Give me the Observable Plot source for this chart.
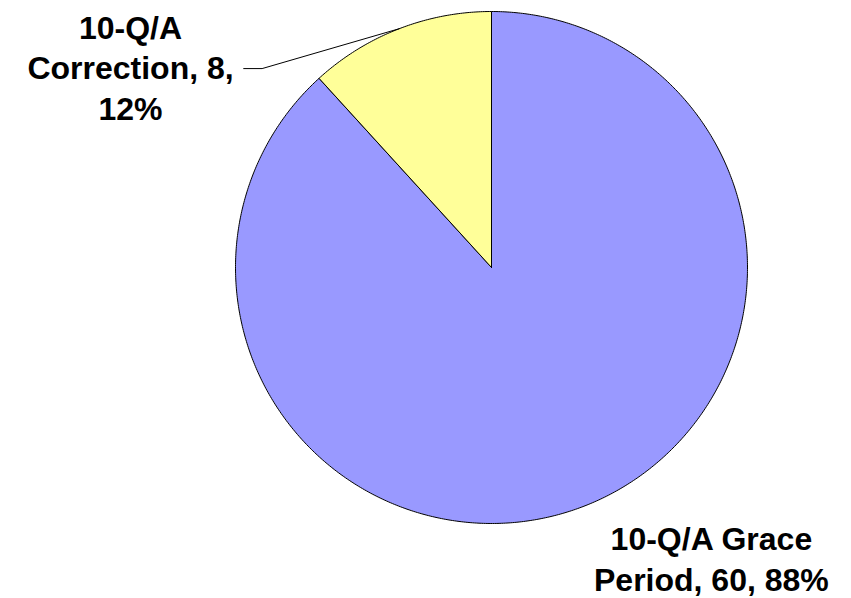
<!DOCTYPE html>
<html>
<head>
<meta charset="utf-8">
<script src="https://cdn.jsdelivr.net/npm/d3@7"></script>
<script src="https://cdn.jsdelivr.net/npm/@observablehq/plot@0.6"></script>
<style>
  html, body { margin: 0; padding: 0; background: #ffffff; }
  #chart { width: 851px; height: 598px; }
</style>
</head>
<body>
<div id="chart"></div>
<script>
// Filing categories and their counts
const categories = ["10-Q/A Grace Period", "10-Q/A Correction"];
const counts = [60, 8];
const sliceColors = ["#9999ff", "#ffff99"];
// word index after which each data label wraps onto a new line
const labelBreaks = [[2], [1, 3]];

// ---- layout (pixels) ----
const W = 851, H = 598;
const CX = 491, CY = 267, R = 256;
// label block centres, in radius units relative to the pie centre
const labelPos = [
  {x: 0.859, y: -1.133},
  {x: -1.410, y: 0.786}
];
// leader line for the small slice: elbow and end, in radius units
const leaderElbow = {x: -0.896, y: 0.777};
const leaderEnd = {x: -0.968, y: 0.777};

const total = d3.sum(counts);
const pct = d3.format(".0%");

// angles measured clockwise from 12 o'clock
let acc = 0;
const slices = categories.map((name, i) => {
  const a0 = acc / total * 2 * Math.PI;
  acc += counts[i];
  const a1 = acc / total * 2 * Math.PI;
  return {name, value: counts[i], a0, a1, color: sliceColors[i]};
});

// polygon outline of each slice: centre, arc, back to centre
const slicePts = slices.flatMap(s => {
  const n = Math.max(2, Math.ceil((s.a1 - s.a0) / (Math.PI / 360)));
  const pts = [{name: s.name, x: 0, y: 0}];
  for (let k = 0; k <= n; k++) {
    const a = s.a0 + (s.a1 - s.a0) * k / n;
    pts.push({name: s.name, x: Math.sin(a), y: Math.cos(a)});
  }
  pts.push({name: s.name, x: 0, y: 0});
  return pts;
});

// wrapped label text: "name, value, percent"
const labels = slices.map((s, i) => {
  const words = `${s.name}, ${s.value}, ${pct(s.value / total)}`.split(" ");
  const lines = [];
  let start = 0;
  for (const b of [...labelBreaks[i], words.length]) {
    lines.push(words.slice(start, b).join(" "));
    start = b;
  }
  return {text: lines.join("\n"), x: labelPos[i].x, y: labelPos[i].y};
});

// leader from the middle of the small slice's rim to its label
const small = slices[1];
const mid = (small.a0 + small.a1) / 2;
const leader = [
  {x: Math.sin(mid), y: Math.cos(mid)},
  leaderElbow,
  leaderEnd
];

const plot = Plot.plot({
  width: W,
  height: H,
  margin: 0,
  style: {background: "#ffffff", overflow: "visible"},
  x: {domain: [-CX / R, (W - CX) / R], range: [0, W], axis: null},
  y: {domain: [-(H - CY) / R, CY / R], range: [H, 0], axis: null},
  color: {domain: categories, range: sliceColors},
  marks: [
    Plot.line(slicePts, {
      x: "x", y: "y", z: "name",
      fill: "name",
      stroke: "#000000",
      strokeWidth: 1,
      strokeLinejoin: "miter"
    }),
    Plot.line(leader, {x: "x", y: "y", stroke: "#000000", strokeWidth: 1}),
    Plot.text(labels, {
      x: "x", y: "y", text: "text",
      fontSize: 32,
      fontWeight: "bold",
      fontFamily: "'Liberation Sans', Arial, sans-serif",
      fill: "#000000",
      textAnchor: "middle",
      lineAnchor: "middle",
      lineHeight: 1.27
    })
  ]
});

document.getElementById("chart").appendChild(plot);
</script>
</body>
</html>
